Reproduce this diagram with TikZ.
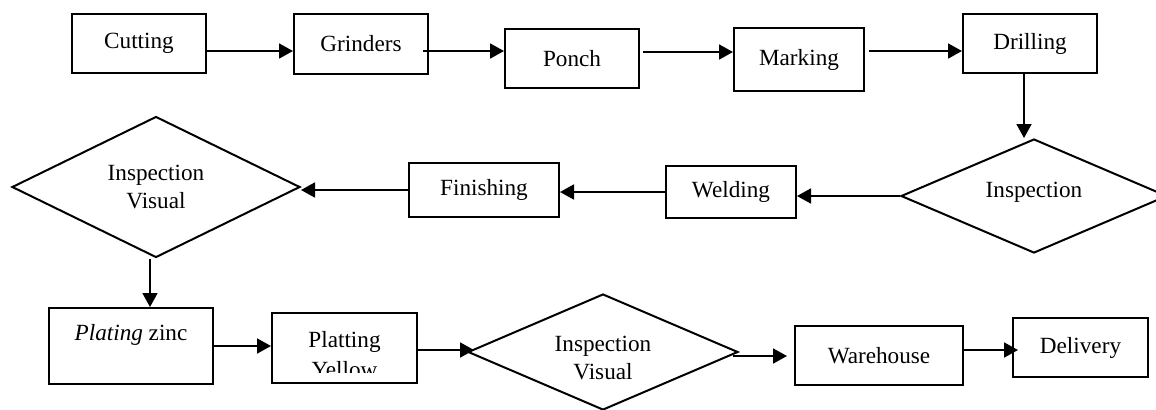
\documentclass[tikz,border=0pt]{standalone}
\usepackage{fontspec}
\setmainfont{Liberation Serif}
\usetikzlibrary{shapes.geometric,arrows.meta}
\begin{document}
\begin{tikzpicture}[x=0.5pt,y=-0.5pt,
  every node/.style={font=\fontsize{11.6}{14}\selectfont, align=center},
  box/.style={draw, line width=1pt, rectangle, inner sep=0pt},
  decision/.style={draw, line width=1pt, diamond, inner sep=0pt, aspect=2},
  txt/.style={inner sep=0pt},
  arr/.style={line width=0.9pt, -{Triangle[length=7pt,width=7.5pt]}}]
\clip (0,0) rectangle (1156,409);

% first row
\node[box, minimum width=67pt, minimum height=29.5pt] (cut)   at (139,43.5)  {Cutting};
\node[box, minimum width=67pt, minimum height=30pt]   (grind) at (361,44)    {Grinders};
\node[box, minimum width=67pt, minimum height=29.5pt] (ponch) at (572,58.5)  {Ponch};
\node[box, minimum width=65pt, minimum height=31.5pt] (mark)  at (799,59.5)  {Marking};
\node[box, minimum width=67pt, minimum height=29.5pt] (drill) at (1030,43.5) {Drilling};

% second row
\node[decision, minimum width=133pt, minimum height=57pt] (insp) at (1034,196) {};
\node[txt] (insptxt) at (1034,192) {Inspection};
\node[box, minimum width=65pt, minimum height=26pt] (weld) at (731,192) {Welding};
\node[box, minimum width=75pt, minimum height=27pt] (fin)  at (484,190) {Finishing};
\node[decision, minimum width=144pt, minimum height=70.5pt] (insp1) at (156,187) {Inspection\\Visual};

% third row
\node[box, minimum width=82pt, minimum height=38pt] (plate) at (131,346) {\textit{Plating} zinc\\\mbox{}};
\node[box, minimum width=72.5pt, minimum height=35pt] (yel) at (344.5,348) {};
\begin{scope}
  \clip (272,313) rectangle (417,372);
  \node[txt, font=\fontsize{11.6}{15}\selectfont] (yeltxt) at (344.5,355) {Platting\\Yellow};
\end{scope}
\node[decision, minimum width=135pt, minimum height=58pt] (insp2) at (603,352) {};
\begin{scope}
  \clip (468,290) rectangle (737,379);
  \node[txt] (insp2txt) at (603,358) {Inspection\\Visual};
\end{scope}
\node[box, minimum width=84pt, minimum height=29.5pt] (ware)  at (879,355.5)  {Warehouse};
\node[box, minimum width=67.5pt, minimum height=29.5pt] (deliv) at (1080.5,347.5) {Delivery};

% connectors
\draw[arr] ([yshift=-3.75pt]cut.east) -- ([yshift=-3.75pt]cut.east -| grind.west);
\draw[arr] ([xshift=-3pt,yshift=-3.5pt]grind.east) -- ([yshift=-3.5pt]grind.east -| ponch.west);
\draw[arr] ([xshift=1.5pt,yshift=3.25pt]ponch.east) -- ([yshift=3.25pt]ponch.east -| mark.west);
\draw[arr] ([xshift=2pt,yshift=4.25pt]mark.east) -- ([yshift=4.25pt]mark.east -| drill.west);
\draw[arr] ([xshift=-3pt]drill.south) -- ([xshift=-3pt]drill.south |- insp.north);
\draw[arr] (insp.west) -- (insp.west -| weld.east);
\draw[arr] (weld.west) -- (weld.west -| fin.east);
\draw[arr] (fin.west) -- (fin.west -| insp1.east);
\draw[arr] ([xshift=-3pt]insp1.south) -- ([xshift=-3pt]insp1.south |- plate.north);
\draw[arr] (plate.east) -- (plate.east -| yel.west);
\draw[arr] ([yshift=-1pt]yel.east) -- ([xshift=3.5pt,yshift=-1pt]yel.east -| insp2.west);
\draw[arr] ([xshift=-3pt,yshift=-2pt]insp2.east) -- ([xshift=-3.5pt,yshift=-2pt]insp2.east -| ware.west);
\draw[arr] ([yshift=2.75pt]ware.east) -- ([xshift=3pt,yshift=2.75pt]ware.east -| deliv.west);
\end{tikzpicture}
\end{document}
